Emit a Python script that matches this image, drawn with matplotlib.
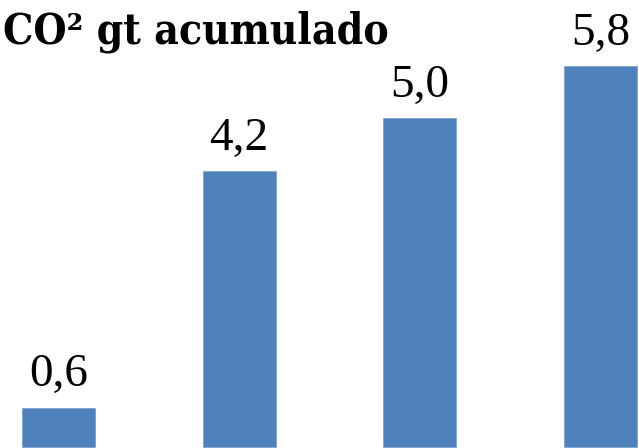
import matplotlib
matplotlib.use("Agg")
import matplotlib.pyplot as plt

periodos = ["P1", "P2", "P3", "P4"]
co2_gt = [0.6, 4.2, 5.0, 5.8]

fig = plt.figure(figsize=(6.39, 4.48), dpi=100)
ax = fig.add_axes([0, 0, 1, 1])

x = range(len(co2_gt))
bars = ax.bar(x, co2_gt, width=0.404, color="#4F81BD", edgecolor="#7FA3D3", linewidth=0.6)

labels = ["{:.1f}".format(v).replace(".", ",") for v in co2_gt]
ax.bar_label(bars, labels=labels, padding=8, fontsize=34, family="Liberation Serif")

ax.set_xlim(-0.324, 3.213)
ax.set_ylim(-0.015, 6.8)
ax.axis("off")

fig.text(0.004, 0.977, "CO² gt acumulado", fontsize=30.5, fontweight="bold",
         family="DejaVu Serif", fontstretch="condensed", va="top", ha="left")

fig.savefig("out.png", dpi=100)
